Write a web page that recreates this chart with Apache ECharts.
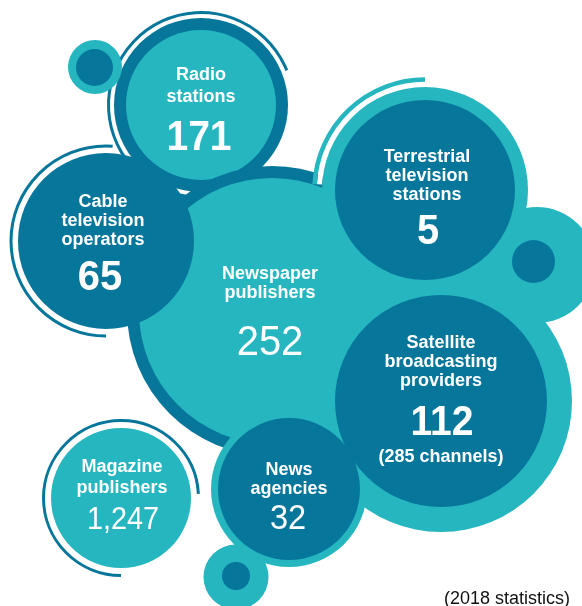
<!DOCTYPE html>
<html><head><meta charset="utf-8">
<script src="https://cdn.jsdelivr.net/npm/echarts@6/dist/echarts.min.js"></script>
<style>html,body{margin:0;padding:0;background:#fff}#c{width:582px;height:606px}</style>
</head><body><div id="c"></div>
<script>
// ---- data ----
const categories = ['Radio stations','Cable television operators','Newspaper publishers','Terrestrial television stations','Satellite broadcasting providers','News agencies','Magazine publishers'];
const labelLines = [['Radio','stations'],['Cable','television','operators'],['Newspaper','publishers'],['Terrestrial','television','stations'],['Satellite','broadcasting','providers'],['News','agencies'],['Magazine','publishers']];
const values = [171, 65, 252, 5, 112, 32, 1247];
const notes = ['', '', '', '', '(285 channels)', '', ''];
const footnote = '(2018 statistics)';

// ---- layout & style (separate from data) ----
const TEAL = '#26b6c0', DARK = '#07769b';
const FONT = "'Liberation Sans', Arial, Helvetica, sans-serif";
const layout = [
 {c:[201,105], r:75, fill:TEAL, ring:{r:87,color:DARK}, arc:{r:92.5,w:3,from:22,to:295,color:DARK}, z:1, label:[201,86], lh:22, num:[199,138], ns:42, nw:'bold'},
 {c:[106,241], r:88, fill:DARK, arc:{r:95,w:3,from:86,to:270,color:DARK}, z:20, label:[103,221], lh:19, num:[100,278], ns:43, nw:'bold'},
 {c:[272,311], r:133, fill:TEAL, ring:{r:145,color:DARK}, z:10, label:[270,283.5], lh:19.5, num:[270,343], ns:43, nw:'normal'},
 {c:[425,190], r:90, fill:DARK, ring:{r:103,color:TEAL}, arc:{r:110.5,w:4.5,from:90,to:177,color:TEAL,gap:true}, z:13, label:[427,176], lh:19, num:[428,232], ns:43, nw:'bold'},
 {c:[441,401], r:106, fill:DARK, ring:{r:131,color:TEAL}, z:13, label:[441,362], lh:19, num:[442,423], ns:42, nw:'bold', note:[441,457]},
 {c:[289,489], r:71, fill:DARK, ring:{r:78,color:TEAL}, z:13, label:[289,479.5], lh:19, num:[288,519], ns:35, nw:'normal'},
 {c:[121,498], r:70, fill:TEAL, arc:{r:77.5,w:3,from:3,to:270,color:DARK}, z:20, label:[122,477.5], lh:21, num:[123,520], ns:31, nw:'normal'}
];
const dots = [
 {c:[95,67], r:27, ic:[94.5,67.5], ir:18.5, z:4},
 {c:[537,265], r:58, ic:[533.5,261.5], ir:21.5, z:13},
 {c:[236,577], r:32.5, ic:[236,576], ir:14, z:13}
];

const chart = echarts.init(document.getElementById('c'), null, {renderer:'canvas'});

function arcEl(c, r, w, from, to, color, z2) {
  return {type:'arc', silent:true, z2:z2,
    shape:{cx:c[0], cy:c[1], r:r, startAngle:-to*Math.PI/180, endAngle:-from*Math.PI/180, clockwise:true},
    style:{stroke:color, lineWidth:w, fill:null}};
}
function circ(c, r, color, z2) {
  return {type:'circle', silent:true, z2:z2, shape:{cx:c[0], cy:c[1], r:r}, style:{fill:color}};
}

function renderBubble(params, api) {
  const i = params.dataIndex, L = layout[i];
  const c = api.coord([api.value(0), api.value(1)]);
  const px = v => api.size([v, 0])[0];
  const pt = p => api.coord(p);
  const kids = [];
  if (L.ring) kids.push(circ(c, px(L.ring.r), L.ring.color, L.z));
  if (L.arc) {
    const a = L.arc;
    if (a.gap) kids.push(arcEl(c, px((L.ring.r + a.r - a.w/2)/2), px(a.r - a.w/2 - L.ring.r), a.from, a.to, '#ffffff', 12));
    kids.push(arcEl(c, px(a.r), px(a.w), a.from, a.to, a.color, a.gap ? 12 : L.z));
  }
  kids.push(circ(c, px(L.r), L.fill, L.z + 1));
  const lp = pt(L.label);
  kids.push({type:'text', silent:true, z2:40, x:lp[0], y:lp[1],
    style:{text:labelLines[i].join('\n'), fill:'#fff', fontFamily:FONT, fontWeight:'bold', fontSize:18, lineHeight:L.lh, align:'center', verticalAlign:'middle'}});
  const np = pt(L.num);
  kids.push({type:'text', silent:true, z2:40, x:np[0], y:np[1], scaleX:0.93,
    style:{text:values[i].toLocaleString('en-US'), fill:'#fff', fontFamily:FONT, fontWeight:L.nw, fontSize:L.ns, align:'center', verticalAlign:'middle'}});
  if (notes[i]) {
    const tp = pt(L.note);
    kids.push({type:'text', silent:true, z2:40, x:tp[0], y:tp[1],
      style:{text:notes[i], fill:'#fff', fontFamily:FONT, fontWeight:'bold', fontSize:18, align:'center', verticalAlign:'middle'}});
  }
  return {type:'group', children:kids};
}

function renderDot(params, api) {
  const D = dots[params.dataIndex];
  const c = api.coord([api.value(0), api.value(1)]);
  const ic = api.coord(D.ic);
  const px = v => api.size([v, 0])[0];
  return {type:'group', children:[circ(c, px(D.r), TEAL, D.z), circ(ic, px(D.ir), DARK, D.z + 1)]};
}

chart.setOption({
  animation:false,
  backgroundColor:'#ffffff',
  grid:{left:0, right:0, top:0, bottom:0},
  xAxis:{type:'value', min:0, max:582, show:false},
  yAxis:{type:'value', min:0, max:606, inverse:true, show:false},
  tooltip:{show:false},
  series:[
    {type:'custom', name:'bubbles', clip:false, renderItem:renderBubble,
     data: categories.map((name, i) => ({name:name, value:[layout[i].c[0], layout[i].c[1], values[i]]}))},
    {type:'custom', name:'dots', clip:false, renderItem:renderDot,
     data: dots.map(d => [d.c[0], d.c[1]])}
  ],
  graphic:[{type:'text', x:570, y:599.5, silent:true,
    style:{text:footnote, fill:'#111', fontFamily:FONT, fontSize:18, align:'right', verticalAlign:'middle'}}]
});
</script></body></html>
